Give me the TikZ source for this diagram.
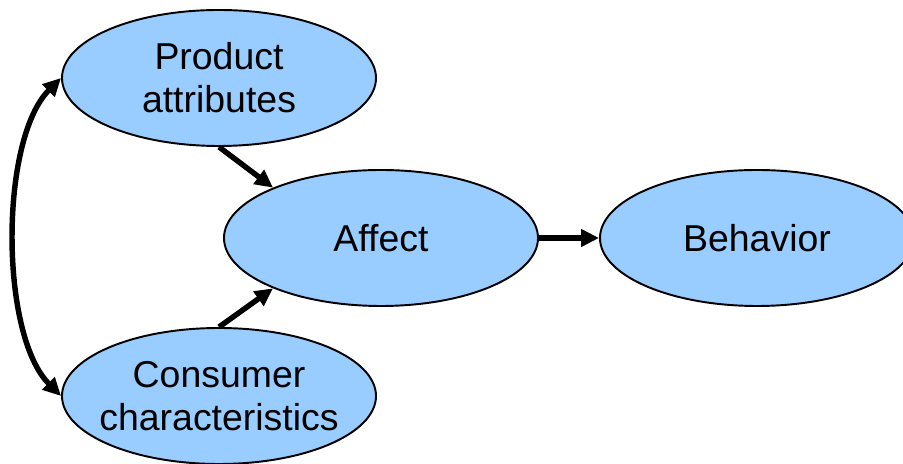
\documentclass[tikz,border=0pt]{standalone}
\usepackage{fontspec}
\setmainfont{Liberation Sans}
\usetikzlibrary{shapes.geometric,positioning,arrows.meta}
\definecolor{factorblue}{RGB}{153,204,255}
\tikzset{
  >={Triangle[length=0.36cm,width=0.34cm]},
  factor/.style={ellipse, draw, line width=1.1pt, fill=factorblue,
    minimum width=6.28cm, minimum height=2.72cm,
    inner xsep=-0.8cm, inner ysep=0pt, align=center,
    font=\fontsize{21.3}{24.5}\selectfont},
}

\begin{document}
\begin{tikzpicture}[->, line width=3.1pt, on grid]
    \useasboundingbox (0,0) rectangle (18.06,-9.28);
    \node[factor] (aff) at (7.62,-4.76) {Affect};
    \node[factor] (prod) [above left=3.2cm and 3.24cm of aff] {Product\\attributes};
    \node[factor] (cons) [below left=3.16cm and 3.24cm of aff] {Consumer\\characteristics};
    \node[factor] (beh) [right=7.52cm of aff] {Behavior};
    \path
      (prod.south) edge (aff.155)
      (cons.north) edge (aff.205)
      (aff.east)   edge (beh.west)
      (prod.west)  edge [<->, out=225, in=135, looseness=0.7] (cons.west);
\end{tikzpicture}
\end{document}
